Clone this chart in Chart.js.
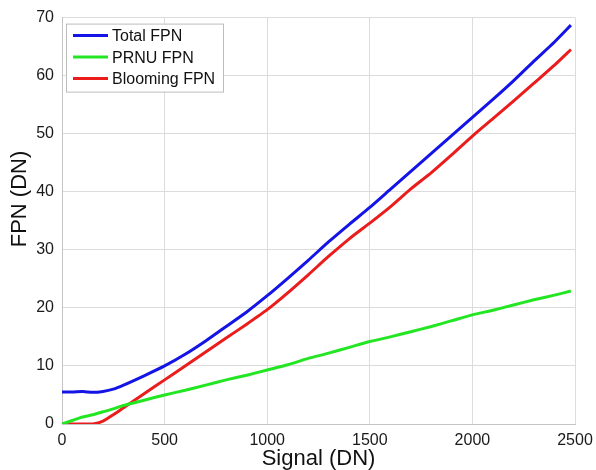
<!DOCTYPE html>
<html>
<head>
<meta charset="utf-8">
<script src="https://cdn.jsdelivr.net/npm/chart.js@4/dist/chart.umd.min.js"></script>
<style>
  html, body { margin: 0; padding: 0; background: #fff; }
  #wrap { width: 596px; height: 470px; }
</style>
</head>
<body>
<div id="wrap"><canvas id="chart" width="596" height="470"></canvas></div>
<script>
// Signal (DN) sample points
var signal = [0, 50, 100, 150, 200, 250, 300, 400, 500, 600, 700, 800, 900, 1000, 1100, 1200, 1300, 1400, 1500, 1600, 1700, 1800, 1900, 2000, 2100, 2200, 2300, 2400, 2480];

// FPN (DN) per curve
var totalFpn = [5.5, 5.5, 5.6, 5.45, 5.6, 6.0, 6.7, 8.3, 10.0, 12.0, 14.3, 16.8, 19.3, 22.1, 25.1, 28.2, 31.4, 34.4, 37.3, 40.4, 43.5, 46.6, 49.7, 52.8, 55.9, 59.1, 62.5, 65.8, 68.7];
var prnuFpn = [0, 0.6, 1.2, 1.6, 2.1, 2.6, 3.2, 4.1, 5.0, 5.8, 6.7, 7.6, 8.4, 9.3, 10.2, 11.3, 12.2, 13.2, 14.2, 15.0, 15.9, 16.8, 17.8, 18.8, 19.6, 20.5, 21.4, 22.2, 22.9];
var bloomingFpn = [0, 0, 0, 0, 0.5, 1.6, 2.8, 5.2, 7.6, 10.0, 12.4, 14.8, 17.2, 19.7, 22.6, 25.7, 28.9, 31.9, 34.6, 37.4, 40.5, 43.3, 46.4, 49.6, 52.6, 55.6, 58.7, 61.8, 64.5];

var seriesNames = ['Total FPN', 'PRNU FPN', 'Blooming FPN'];
var seriesColors = ['#1414e6', '#22e622', '#ea1c1c'];

var xTicks = [0, 500, 1000, 1500, 2000, 2500];
var yTicks = [0, 10, 20, 30, 40, 50, 60, 70];

function toPoints(ys) {
    return signal.map(function(x, i) { return { x: x, y: ys[i] }; });
}

var FONT = '"Liberation Sans", Arial, sans-serif';

// legend box inside the plot + y axis title
var extras = {
    id: 'extras',
    afterDraw: function(chart) {
        var ctx = chart.ctx;
        var a = chart.chartArea;
        ctx.save();

        // legend
        var bx = a.left + 4, by = a.top + 6, bw = 157, bh = 68;
        ctx.fillStyle = '#fff';
        ctx.fillRect(bx, by, bw, bh);
        ctx.strokeStyle = '#bdbdbd';
        ctx.lineWidth = 1;
        ctx.strokeRect(bx + 0.5, by + 0.5, bw, bh);
        ctx.font = '16px ' + FONT;
        ctx.textBaseline = 'middle';
        ctx.textAlign = 'left';
        chart.data.datasets.forEach(function(ds, i) {
            var y = by + 12 + i * 21.5;
            ctx.strokeStyle = ds.borderColor;
            ctx.lineWidth = 3;
            ctx.beginPath();
            ctx.moveTo(bx + 7, y);
            ctx.lineTo(bx + 42, y);
            ctx.stroke();
            ctx.fillStyle = '#111';
            ctx.fillText(ds.label, bx + 46, y + 1);
        });

        // y title
        ctx.translate(20, 199);
        ctx.rotate(-Math.PI / 2);
        ctx.textAlign = 'center';
        ctx.font = '22px ' + FONT;
        ctx.fillStyle = '#111';
        ctx.fillText('FPN (DN)', 0, 0);
        ctx.restore();
    }
};

var ctx = document.getElementById('chart').getContext('2d');
var chart = new Chart(ctx, {
    type: 'line',
    data: {
        datasets: [0, 1, 2].map(function(i) {
            return {
                label: seriesNames[i],
                data: toPoints([totalFpn, prnuFpn, bloomingFpn][i]),
                borderColor: seriesColors[i],
                backgroundColor: seriesColors[i],
                borderWidth: 3,
                pointRadius: 0,
                tension: 0.2,
                fill: false
            };
        })
    },
    options: {
        responsive: false,
        animation: false,
        devicePixelRatio: 1,
        layout: { padding: { top: 17, right: 21, left: 0, bottom: 0 } },
        plugins: {
            legend: { display: false },
            tooltip: { enabled: false }
        },
        scales: {
            x: {
                type: 'linear',
                min: 0,
                max: 2500,
                afterBuildTicks: function(scale) {
                    scale.ticks = xTicks.map(function(v) { return { value: v }; });
                },
                afterFit: function(scale) {
                    scale.height = 46;
                    scale.paddingRight = 0;
                    scale.paddingLeft = 0;
                },
                grid: { color: '#dcdcdc', drawTicks: false },
                border: { color: '#c4c4c4' },
                ticks: {
                    padding: 7,
                    color: '#1a1a1a',
                    font: { family: FONT, size: 16 },
                    callback: function(v) { return String(v); }
                },
                title: {
                    display: true,
                    text: 'Signal (DN)',
                    color: '#111',
                    font: { family: FONT, size: 22, lineHeight: 1 },
                    padding: { top: 0, bottom: 0 }
                }
            },
            y: {
                min: 0,
                max: 70,
                afterBuildTicks: function(scale) {
                    scale.ticks = yTicks.map(function(v) { return { value: v }; });
                },
                afterFit: function(scale) { scale.width = 62; },
                grid: { color: '#dcdcdc', drawTicks: false },
                border: { color: '#c4c4c4' },
                ticks: {
                    padding: 8,
                    color: '#1a1a1a',
                    font: { family: FONT, size: 16 },
                    callback: function(v) { return String(v); }
                }
            }
        }
    },
    plugins: [extras]
});
</script>
</body>
</html>
